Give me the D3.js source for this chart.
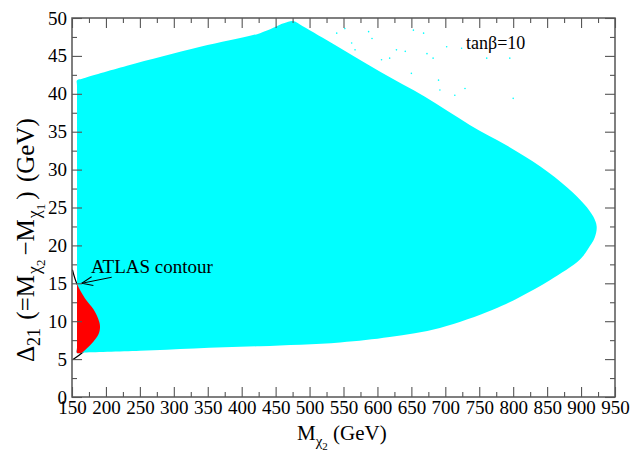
<!doctype html>
<html lang="en">
<head>
  <meta charset="utf-8">
  <title>Delta21 vs M chi2 - D3</title>
  <style>
    body { margin: 0; background: #fff; }
    svg { display: block; font-family: "Liberation Serif", "Times New Roman", serif; }
  </style>
</head>
<body>
  <svg></svg>
  <script src="https://cdn.jsdelivr.net/npm/d3@7"></script>
  <script>
    const width = 630;
    const height = 453;
    const margin = { top: 18, right: 15, bottom: 56, left: 72 };

    // tick labels
    const xTickLabels = [150, 200, 250, 300, 350, 400, 450, 500, 550, 600, 650, 700, 750, 800, 850, 900, 950];
    const yTickLabels = [0, 5, 10, 15, 20, 25, 30, 35, 40, 45, 50];

    // outline of the scanned (cyan) region, [M_chi2, Delta21]
    const scanBoundary = [
      [157.4, 5.8], [157.4, 6.6], [157.4, 41.0], [157.4, 41.8], [165, 42.0], [231, 43.7],
      [339, 46.2], [427, 48.0], [462, 49.3], [476, 49.6], [490, 48.9], [540, 46.3],
      [604, 42.9], [670, 39.6], [736, 35.9], [790, 33.2], [840, 30.4], [880, 27.6],
      [905, 25.4], [918, 23.8], [923, 22.5], [920, 21.0], [910, 19.5], [898, 18.1],
      [854, 15.4], [810, 13.2], [770, 11.5], [692, 9.1], [618, 7.9], [545, 7.2],
      [427, 6.7], [330, 6.4], [250, 6.1], [165, 5.85]
    ];

    // isolated scan points above the main region
    const strayPoints = [
      [540, 48.0], [552, 48.6], [562, 46.7], [567, 45.8], [587, 48.2], [592, 47.3],
      [606, 44.5], [618, 44.7], [628, 45.8], [641, 45.6], [650, 42.7], [653, 48.4],
      [668, 48.0], [673, 45.3], [682, 44.7], [690, 41.8], [692, 40.5], [702, 46.2],
      [714, 39.8], [724, 46.0], [729, 40.7], [761, 44.7], [795, 44.7], [800, 39.4]
    ];

    // ATLAS exclusion contour
    const atlasContour = [
      [150.6, 16.8], [156.9, 15.0], [169.2, 13.0], [181.4, 11.6], [188.7, 10.3], [191.3, 9.3],
      [188.7, 8.2], [181.4, 7.3], [171.7, 6.4], [161.8, 5.6], [150.8, 4.9]
    ];

    const svg = d3.select('svg')
      .attr('width', width)
      .attr('height', height)
      .attr('viewBox', [0, 0, width, height]);

    const x = d3.scaleLinear().domain([150, 950]).range([margin.left, width - margin.right]);
    const y = d3.scaleLinear().domain([0, 50]).range([height - margin.bottom, margin.top]);

    const midpoints = arr => arr.slice(1).map((v, i) => (v + arr[i]) / 2);
    const xMinor = midpoints(xTickLabels);
    const yMinor = midpoints(yTickLabels);

    const defs = svg.append('defs');
    defs.append('clipPath').attr('id', 'plotClip')
      .append('rect')
      .attr('x', x(150)).attr('y', y(50))
      .attr('width', x(950) - x(150)).attr('height', y(0) - y(50));

    const regionLine = d3.line().x(d => x(d[0])).y(d => y(d[1])).curve(d3.curveCatmullRomClosed.alpha(0.5));
    const smoothLine = d3.line().x(d => x(d[0])).y(d => y(d[1])).curve(d3.curveCatmullRom);

    defs.append('clipPath').attr('id', 'scanClip')
      .append('path').attr('d', regionLine(scanBoundary));

    defs.append('marker')
      .attr('id', 'arrow')
      .attr('viewBox', '-12 -6 14 12')
      .attr('markerUnits', 'userSpaceOnUse')
      .attr('markerWidth', 14).attr('markerHeight', 12)
      .attr('refX', 0).attr('refY', 0)
      .attr('orient', 'auto')
      .append('path')
      .attr('d', 'M-11,-4.5L0,0L-11,4.5')
      .attr('fill', 'none')
      .attr('stroke', '#000')
      .attr('stroke-width', 1);

    const plot = svg.append('g').attr('clip-path', 'url(#plotClip)');

    // contour line (only its part outside the scan shows)
    plot.append('path')
      .attr('d', smoothLine(atlasContour))
      .attr('fill', 'none')
      .attr('stroke', '#000')
      .attr('stroke-width', 1.2);

    // scanned region
    plot.append('path')
      .attr('d', regionLine(scanBoundary))
      .attr('fill', '#00ffff');

    plot.selectAll('circle.stray')
      .data(strayPoints)
      .enter()
      .append('circle')
      .attr('class', 'stray')
      .attr('cx', d => x(d[0]))
      .attr('cy', d => y(d[1]))
      .attr('r', 0.8)
      .attr('fill', '#00ffff');

    // excluded part inside the scan
    plot.append('path')
      .attr('d', smoothLine(atlasContour) + 'Z')
      .attr('clip-path', 'url(#scanClip)')
      .attr('fill', '#ff0000');

    // arrow + label
    svg.append('line')
      .attr('x1', x(208.5)).attr('y1', y(15.8))
      .attr('x2', x(164.3)).attr('y2', y(15.0))
      .attr('stroke', '#000')
      .attr('stroke-width', 1)
      .attr('marker-end', 'url(#arrow)');

    svg.append('text')
      .attr('x', x(178)).attr('y', y(16.4))
      .attr('font-size', 19)
      .text('ATLAS contour');

    svg.append('text')
      .attr('x', x(730.5)).attr('y', y(45.9))
      .attr('font-size', 18)
      .text('tanβ=10');

    // axes: ticks on all four sides, pointing inward
    const axisColor = '#555';
    const styleAxis = g => {
      g.select('.domain').remove();
      g.selectAll('.tick line').attr('stroke', axisColor).attr('stroke-width', 1.1);
      g.selectAll('.tick text').attr('fill', '#000').attr('font-size', 19).attr('font-family', 'Liberation Serif');
    };
    const y0 = height - margin.bottom;
    const x1 = width - margin.right;

    svg.append('g').attr('transform', `translate(0,${y0})`)
      .call(d3.axisBottom(x).tickValues(xTickLabels).tickSize(-10).tickPadding(4).tickFormat(d3.format('d')))
      .call(styleAxis);
    svg.append('g').attr('transform', `translate(0,${y0})`)
      .call(d3.axisBottom(x).tickValues(xMinor).tickSize(-5).tickFormat(''))
      .call(styleAxis);
    svg.append('g').attr('transform', `translate(0,${margin.top})`)
      .call(d3.axisTop(x).tickValues(xTickLabels).tickSize(-10).tickFormat(''))
      .call(styleAxis);
    svg.append('g').attr('transform', `translate(0,${margin.top})`)
      .call(d3.axisTop(x).tickValues(xMinor).tickSize(-5).tickFormat(''))
      .call(styleAxis);

    svg.append('g').attr('transform', `translate(${margin.left},0)`)
      .call(d3.axisLeft(y).tickValues(yTickLabels).tickSize(-10).tickPadding(5).tickFormat(d3.format('d')))
      .call(styleAxis);
    svg.append('g').attr('transform', `translate(${margin.left},0)`)
      .call(d3.axisLeft(y).tickValues(yMinor).tickSize(-5).tickFormat(''))
      .call(styleAxis);
    svg.append('g').attr('transform', `translate(${x1},0)`)
      .call(d3.axisRight(y).tickValues(yTickLabels).tickSize(-10).tickFormat(''))
      .call(styleAxis);
    svg.append('g').attr('transform', `translate(${x1},0)`)
      .call(d3.axisRight(y).tickValues(yMinor).tickSize(-5).tickFormat(''))
      .call(styleAxis);

    // frame
    svg.append('rect')
      .attr('x', margin.left).attr('y', margin.top)
      .attr('width', x1 - margin.left).attr('height', y0 - margin.top)
      .attr('fill', 'none')
      .attr('stroke', axisColor)
      .attr('stroke-width', 1.5);

    // x axis title: M_chi2 (GeV)
    const xTitle = svg.append('text')
      .attr('x', 297).attr('y', 440)
      .attr('font-size', 21);
    xTitle.append('tspan').text('M');
    xTitle.append('tspan').attr('font-size', 15).attr('dy', 6).text('χ');
    xTitle.append('tspan').attr('font-size', 11).attr('dy', 4).text('2');
    xTitle.append('tspan').attr('dy', -10).text(' (GeV)');

    // y axis title: Delta_21 (=M_chi2 - M_chi1) (GeV)
    const yTitle = svg.append('text')
      .attr('transform', 'translate(34,362) rotate(-90)')
      .attr('font-size', 25);
    yTitle.append('tspan').text('Δ');
    yTitle.append('tspan').attr('font-size', 18).attr('dy', 6).text('21');
    yTitle.append('tspan').attr('dx', 2).attr('dy', -6).text(' (=M');
    yTitle.append('tspan').attr('font-size', 18).attr('dx', 1).attr('dy', 6).text('χ');
    yTitle.append('tspan').attr('font-size', 13).attr('dy', 5).text('2');
    yTitle.append('tspan').attr('dx', 4).attr('dy', -11).text('−M');
    yTitle.append('tspan').attr('font-size', 18).attr('dx', 1).attr('dy', 6).text('χ');
    yTitle.append('tspan').attr('font-size', 13).attr('dy', 5).text('1');
    yTitle.append('tspan').attr('dx', 4).attr('dy', -11).text(')');
    yTitle.append('tspan').attr('dx', 3).text(' (GeV)');
  </script>
</body>
</html>
